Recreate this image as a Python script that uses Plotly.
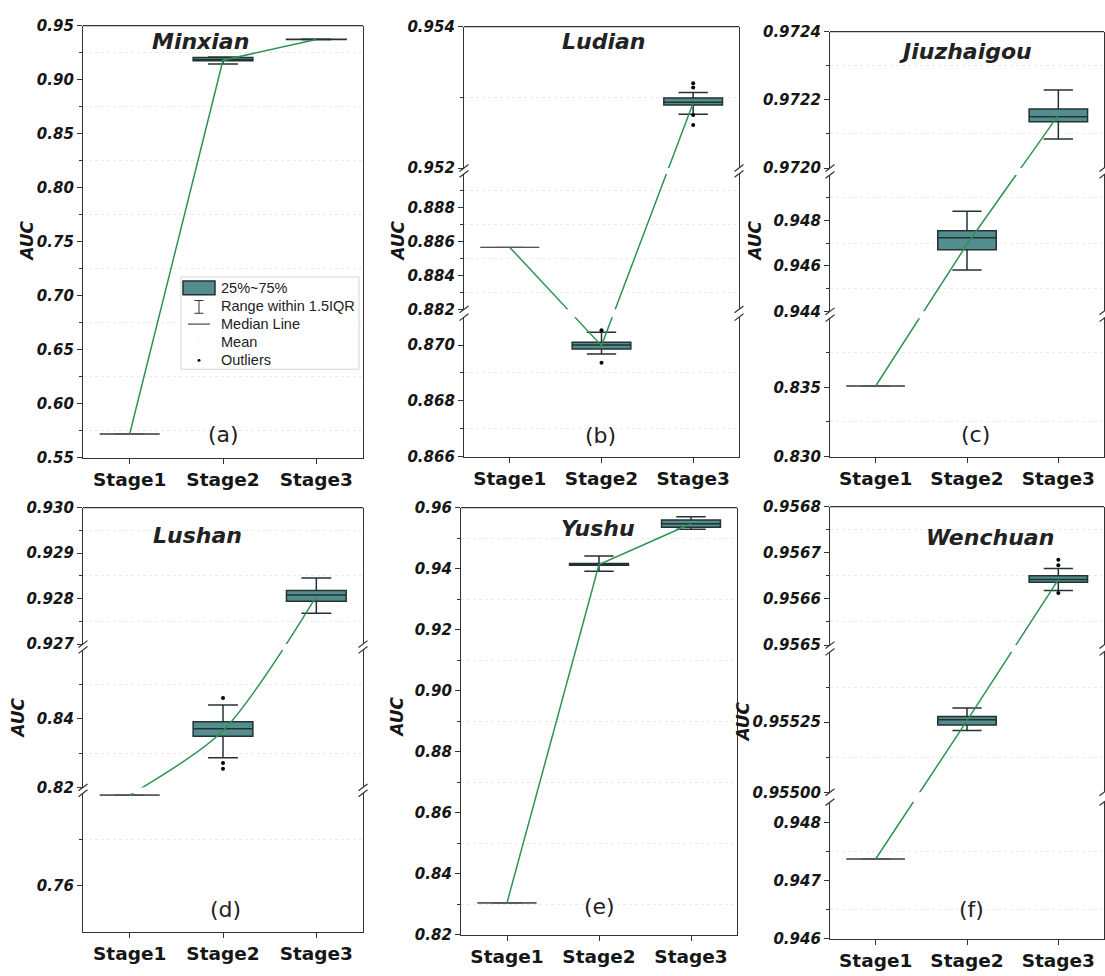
import plotly.graph_objects as go

W, H = 1105, 976

STAGES = ["Stage1", "Stage2", "Stage3"]
STAGE_X = [1, 2, 3]

# ---------------- AUC statistics per site (Stage1, Stage2, Stage3) ----------------
minxian_q1 = [0.5718, 0.9175, 0.9371]
minxian_median = [0.5718, 0.9182, 0.9373]
minxian_q3 = [0.5718, 0.9205, 0.9375]
minxian_low = [0.5718, 0.9145, 0.9369]
minxian_high = [0.5718, 0.9210, 0.9376]
minxian_mean = [0.5718, 0.9180, 0.9373]
minxian_outliers = [[], [], []]

ludian_q1 = [0.88566, 0.86986, 0.95289]
ludian_median = [0.88566, 0.87000, 0.95293]
ludian_q3 = [0.88566, 0.87010, 0.95299]
ludian_low = [0.88566, 0.86968, 0.95276]
ludian_high = [0.88566, 0.87046, 0.95307]
ludian_mean = [0.88566, 0.86998, 0.95292]
ludian_outliers = [[], [0.87053, 0.86937], [0.95320, 0.95314, 0.95275, 0.95261]]

jiuzhaigou_q1 = [0.8351, 0.94671, 0.972136]
jiuzhaigou_median = [0.8351, 0.94723, 0.972150]
jiuzhaigou_q3 = [0.8351, 0.94754, 0.972173]
jiuzhaigou_low = [0.8351, 0.94582, 0.972085]
jiuzhaigou_high = [0.8351, 0.94840, 0.972229]
jiuzhaigou_mean = [0.8351, 0.94695, 0.972155]
jiuzhaigou_outliers = [[], [], []]

lushan_q1 = [0.7992, 0.8349, 0.92794]
lushan_median = [0.7992, 0.8371, 0.92808]
lushan_q3 = [0.7992, 0.8391, 0.92818]
lushan_low = [0.7992, 0.8286, 0.92768]
lushan_high = [0.7992, 0.8440, 0.92845]
lushan_mean = [0.7992, 0.8365, 0.92805]
lushan_outliers = [[], [0.8460, 0.8271, 0.8254], []]

yushu_q1 = [0.8304, 0.94113, 0.95356]
yushu_median = [0.8304, 0.94133, 0.95475]
yushu_q3 = [0.8304, 0.94165, 0.95591]
yushu_low = [0.8304, 0.93917, 0.95292]
yushu_high = [0.8304, 0.94413, 0.95700]
yushu_mean = [0.8304, 0.94130, 0.95470]
yushu_outliers = [[], [], []]

wenchuan_q1 = [0.94737, 0.95524, 0.956636]
wenchuan_median = [0.94737, 0.955258, 0.956642]
wenchuan_q3 = [0.94737, 0.95527, 0.956650]
wenchuan_low = [0.94737, 0.95522, 0.956618]
wenchuan_high = [0.94737, 0.95530, 0.956666]
wenchuan_mean = [0.94737, 0.955255, 0.956642]
wenchuan_outliers = [[], [], [0.956685, 0.956673, 0.956613]]

# ---------------- y tick labels of each axis segment (bottom -> top) ----------------
minxian_ticks = [[0.55, 0.60, 0.65, 0.70, 0.75, 0.80, 0.85, 0.90, 0.95]]
ludian_ticks = [[0.866, 0.868, 0.870], [0.882, 0.884, 0.886, 0.888], [0.952, 0.954]]
jiuzhaigou_ticks = [[0.830, 0.835], [0.944, 0.946, 0.948], [0.9720, 0.9722, 0.9724]]
lushan_ticks = [[0.76], [0.82, 0.84], [0.927, 0.928, 0.929, 0.930]]
yushu_ticks = [[0.82, 0.84, 0.86, 0.88, 0.90, 0.92, 0.94, 0.96]]
wenchuan_ticks = [[0.946, 0.947, 0.948], [0.95500, 0.95525], [0.9565, 0.9566, 0.9567, 0.9568]]

minxian_minor = [[0.575, 0.625, 0.675, 0.725, 0.775, 0.825, 0.875, 0.925]]
ludian_minor = [[0.867, 0.869], [0.883, 0.885, 0.887, 0.889], [0.953]]
jiuzhaigou_minor = [[0.8325, 0.8375], [0.945, 0.947, 0.949], [0.9721, 0.9723]]
lushan_minor = [[0.78], [0.83, 0.85], [0.9275, 0.9285, 0.9295]]
yushu_minor = [[0.83, 0.85, 0.87, 0.89, 0.91, 0.93, 0.95]]
wenchuan_minor = [[0.9465, 0.9475], [0.955125, 0.955375], [0.95655, 0.95665, 0.95675]]

# ---------------- styling ----------------
TEAL = "#548D8E"
EDGE = "#243232"
AXC = "#333333"
GRID = "#ebebeb"
GREEN = "#2E9352"
TXT = "#161616"
TICKFONT = dict(family="DejaVu Sans", size=15, color=TXT, weight="bold", style="italic")
STAGEFONT = dict(family="DejaVu Sans", size=18.5, color=TXT, weight="bold")
TITLEFONT = dict(family="DejaVu Sans", size=22, color="#222222", weight="bold", style="italic")
AUCFONT = dict(family="DejaVu Sans", size=17, color=TXT, weight="bold", style="italic")
LETTERFONT = dict(family="DejaVu Sans", size=22, color="#222222")
LEGFONT = dict(family="Liberation Sans", size=14.5, color="#222222")


def py(p):
    return 1 - p / H


def px(p):
    return p / W


def seg(lo, hi, pb, pt, ticks, minor, fmt):
    return dict(lo=lo, hi=hi, pb=pb, pt=pt, ticks=ticks, minor=minor, fmt=fmt)


panels = [
    dict(name="Minxian", letter="(a)", L=83, R=363,
         stats=(minxian_q1, minxian_median, minxian_q3, minxian_low, minxian_high, minxian_mean, minxian_outliers),
         segs=[seg(0.55, 0.95, 457, 17, minxian_ticks[0], minxian_minor[0], ".2f")],
         title_xy=(200, 33), letter_xy=(223, 433), auc_xy=(27, 237), shape="linear"),
    dict(name="Ludian", letter="(b)", L=464, R=739,
         stats=(ludian_q1, ludian_median, ludian_q3, ludian_low, ludian_high, ludian_mean, ludian_outliers),
         segs=[seg(0.866, 0.871, 456, 314, ludian_ticks[0], ludian_minor[0], ".3f"),
               seg(0.882, 0.890, 306, 168, ludian_ticks[1], ludian_minor[1], ".3f"),
               seg(0.952, 0.954, 162, 18, ludian_ticks[2], ludian_minor[2], ".3f")],
         title_xy=(603, 33), letter_xy=(600, 435), auc_xy=(398, 237), shape="linear"),
    dict(name="Jiuzhaigou", letter="(c)", L=830, R=1104,
         stats=(jiuzhaigou_q1, jiuzhaigou_median, jiuzhaigou_q3, jiuzhaigou_low, jiuzhaigou_high, jiuzhaigou_mean, jiuzhaigou_outliers),
         segs=[seg(0.830, 0.840, 456, 315, jiuzhaigou_ticks[0], jiuzhaigou_minor[0], ".3f"),
               seg(0.944, 0.950, 308, 169, jiuzhaigou_ticks[1], jiuzhaigou_minor[1], ".3f"),
               seg(0.9720, 0.9724, 162, 23, jiuzhaigou_ticks[2], jiuzhaigou_minor[2], ".4f")],
         title_xy=(965, 43), letter_xy=(975, 433), auc_xy=(755, 237), shape="linear"),
    dict(name="Lushan", letter="(d)", L=83, R=363,
         stats=(lushan_q1, lushan_median, lushan_q3, lushan_low, lushan_high, lushan_mean, lushan_outliers),
         segs=[seg(0.74, 0.80, 940, 799, lushan_ticks[0], lushan_minor[0], ".2f"),
               seg(0.82, 0.86, 793, 653, lushan_ticks[1], lushan_minor[1], ".2f"),
               seg(0.927, 0.930, 647, 508, lushan_ticks[2], lushan_minor[2], ".3f")],
         title_xy=(197, 536), letter_xy=(225, 917), auc_xy=(18, 723), shape="spline"),
    dict(name="Yushu", letter="(e)", L=461, R=737,
         stats=(yushu_q1, yushu_median, yushu_q3, yushu_low, yushu_high, yushu_mean, yushu_outliers),
         segs=[seg(0.82, 0.96, 943, 508, yushu_ticks[0], yushu_minor[0], ".2f")],
         title_xy=(598, 529), letter_xy=(599, 914), auc_xy=(397, 722), shape="linear"),
    dict(name="Wenchuan", letter="(f)", L=830, R=1104,
         stats=(wenchuan_q1, wenchuan_median, wenchuan_q3, wenchuan_low, wenchuan_high, wenchuan_mean, wenchuan_outliers),
         segs=[seg(0.946, 0.94835, 947, 808, wenchuan_ticks[0], wenchuan_minor[0], ".3f"),
               seg(0.9550, 0.9555, 798, 655, wenchuan_ticks[1], wenchuan_minor[1], ".5f"),
               seg(0.9565, 0.9568, 648, 507, wenchuan_ticks[2], wenchuan_minor[2], ".4f")],
         title_xy=(990, 538), letter_xy=(971, 917), auc_xy=(743, 727), shape="linear"),
]

fig = go.Figure()
layout = dict(width=W, height=H, margin=dict(l=0, r=0, t=0, b=0),
              paper_bgcolor="white", plot_bgcolor="rgba(0,0,0,0)", showlegend=False)
shapes = []
annotations = []
xi = 0
yi = 0


def axis_names(kind, i):
    return (kind if i == 1 else f"{kind}{i}", f"{kind}axis" if i == 1 else f"{kind}axis{i}")


def segment_of(v, segs):
    for k, s in enumerate(segs):
        if s["lo"] - 1e-12 <= v <= s["hi"] + 1e-12:
            return k
    return 0


def value_to_paper(v, segs):
    s = segs[segment_of(v, segs)]
    f = (v - s["lo"]) / (s["hi"] - s["lo"])
    return py(s["pb"] + f * (s["pt"] - s["pb"]))


for p in panels:
    xi += 1
    xname, xkey = axis_names("x", xi)
    segs = p["segs"]
    yrefs = []
    for s in segs:
        yi += 1
        yname, ykey = axis_names("y", yi)
        layout[ykey] = dict(
            domain=[py(s["pb"]), py(s["pt"])], range=[s["lo"], s["hi"]], anchor=xname,
            showline=True, mirror=True, linecolor=AXC, linewidth=1.3,
            ticks="outside", ticklen=5, tickwidth=1.3, tickcolor=AXC,
            tickvals=s["ticks"], tickformat=s["fmt"], tickfont=TICKFONT,
            showgrid=False, zeroline=False,
            minor=dict(tickvals=s["minor"], ticks="outside", ticklen=3, tickwidth=1.1,
                       tickcolor=AXC, showgrid=True, gridcolor=GRID, griddash="dot", gridwidth=1),
        )
        yrefs.append(yname)
    layout[xkey] = dict(
        domain=[px(p["L"]), px(p["R"])], range=[0.5, 3.5], anchor=yrefs[0],
        showline=True, linecolor=AXC, linewidth=1.3, ticks="outside", ticklen=5,
        tickwidth=1.3, tickcolor=AXC, tickvals=STAGE_X, ticktext=STAGES,
        tickfont=STAGEFONT, showgrid=False, zeroline=False,
    )

    q1, med, q3, low, high, mean, outl = p["stats"]
    for i in range(3):
        yref = yrefs[segment_of(med[i], segs)]
        single = q1[i] == q3[i]
        fig.add_trace(go.Box(
            x=[STAGE_X[i]], q1=[q1[i]], median=[med[i]], q3=[q3[i]],
            lowerfence=[low[i]], upperfence=[high[i]],
            width=0.64, whiskerwidth=0.5, fillcolor=TEAL,
            line=dict(color="#555555" if single else EDGE, width=1.0 if single else 1.5),
            boxpoints=False, hoverinfo="skip", xaxis=xname, yaxis=yref,
        ))
        if outl[i]:
            fig.add_trace(go.Scatter(
                x=[STAGE_X[i]] * len(outl[i]), y=outl[i], mode="markers",
                marker=dict(size=4, color="black"), hoverinfo="skip",
                xaxis=xname, yaxis=yrefs[segment_of(outl[i][0], segs)],
            ))

    # connecting line through the stage means
    if len(segs) == 1:
        fig.add_trace(go.Scatter(x=STAGE_X, y=mean, mode="lines",
                                 line=dict(color=GREEN, width=1.5),
                                 hoverinfo="skip", xaxis=xname, yaxis=yrefs[0]))
    else:
        yi += 1
        yname, ykey = axis_names("y", yi)
        d0, d1 = py(segs[0]["pb"]), py(segs[-1]["pt"])
        layout[ykey] = dict(domain=[d0, d1], range=[d0, d1], anchor=xname, visible=False)
        fig.add_trace(go.Scatter(
            x=STAGE_X, y=[value_to_paper(v, segs) for v in mean], mode="lines",
            line=dict(color=GREEN, width=1.5, shape=p["shape"], smoothing=0.8),
            hoverinfo="skip", xaxis=xname, yaxis=yname))
        # break bands with // marks on both side axes
        for lower, upper in zip(segs[:-1], segs[1:]):
            shapes.append(dict(type="rect", xref="paper", yref="paper",
                               x0=px(p["L"] + 1), x1=px(p["R"] - 1),
                               y0=py(lower["pt"]), y1=py(upper["pb"]),
                               fillcolor="white", line=dict(width=0), layer="above"))
            for xa in (p["L"], p["R"]):
                for yb in (lower["pt"], upper["pb"]):
                    shapes.append(dict(type="line", xref="paper", yref="paper",
                                       x0=px(xa - 4.5), y0=py(yb + 3.5),
                                       x1=px(xa + 4.5), y1=py(yb - 3.5),
                                       line=dict(color=AXC, width=1.2), layer="above"))

    # frame top
    top = segs[-1]["pt"]
    shapes.append(dict(type="line", xref="paper", yref="paper",
                       x0=px(p["L"]), x1=px(p["R"]), y0=py(top), y1=py(top),
                       line=dict(color=AXC, width=1.3), layer="above"))

    tx, ty = p["title_xy"]
    annotations.append(dict(text=p["name"], x=px(tx), y=py(ty), xref="paper", yref="paper",
                            showarrow=False, font=TITLEFONT, xanchor="center", yanchor="middle"))
    lx, ly = p["letter_xy"]
    annotations.append(dict(text=p["letter"], x=px(lx), y=py(ly), xref="paper", yref="paper",
                            showarrow=False, font=LETTERFONT, xanchor="center", yanchor="middle"))
    ax_, ay_ = p["auc_xy"]
    annotations.append(dict(text="AUC", x=px(ax_), y=py(ay_), xref="paper", yref="paper",
                            showarrow=False, font=AUCFONT, textangle=-90,
                            xanchor="center", yanchor="middle"))

# legend box drawn inside panel (a)
def pline(x0, y0, x1, y1, color="#333333", width=1.0):
    shapes.append(dict(type="line", xref="paper", yref="paper", x0=px(x0), y0=py(y0),
                       x1=px(x1), y1=py(y1), line=dict(color=color, width=width), layer="above"))


shapes.append(dict(type="rect", xref="paper", yref="paper", x0=px(181), x1=px(359),
                   y0=py(367), y1=py(273), fillcolor="white",
                   line=dict(color="#d4d4d4", width=1), layer="above"))
shapes.append(dict(type="rect", xref="paper", yref="paper", x0=px(183), x1=px(215),
                   y0=py(291), y1=py(277), fillcolor=TEAL,
                   line=dict(color=EDGE, width=1.5), layer="above"))
pline(199, 297, 199, 310)
pline(194.5, 297, 203.5, 297)
pline(194.5, 310, 203.5, 310)
pline(188, 321, 210, 321, "#222222", 1.0)
shapes.append(dict(type="circle", xref="paper", yref="paper", x0=px(198.5), x1=px(199.5),
                   y0=py(339.5), y1=py(338.5), fillcolor="#bbbbbb",
                   line=dict(width=0), layer="above"))
shapes.append(dict(type="circle", xref="paper", yref="paper", x0=px(197.5), x1=px(200.5),
                   y0=py(359.5), y1=py(356.5), fillcolor="black",
                   line=dict(width=0), layer="above"))
for label, ly in [("25%~75%", 284), ("Range within 1.5IQR", 303), ("Median Line", 321),
                  ("Mean", 339), ("Outliers", 358)]:
    annotations.append(dict(text=label, x=px(219), y=py(ly), xref="paper", yref="paper",
                            showarrow=False, font=LEGFONT, xanchor="left", yanchor="middle"))

layout["shapes"] = shapes
layout["annotations"] = annotations
fig.update_layout(**layout)
fig.write_html("out.html")
